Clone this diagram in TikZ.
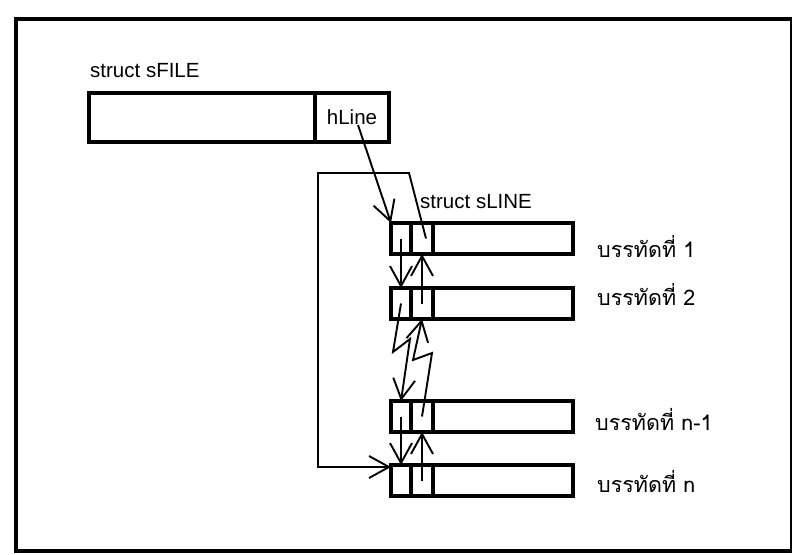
\documentclass[tikz,border=0pt]{standalone}
\usepackage{fontspec}
\setmainfont{Liberation Sans}
\newfontfamily\thaifont[Script=Thai]{Loma}
\usetikzlibrary{arrows.meta}
\begin{document}
\begin{tikzpicture}[x=1pt,y=-1pt,
  frame/.style={line width=3.6pt},
  box/.style={draw,line width=3.2pt,inner sep=0pt,outer sep=0pt,anchor=north west,minimum height=31pt},
  ptr/.style={line width=1.9pt,-{Straight Barb[length=20pt,width=22pt,line width=1.9pt]}},
  lab/.style={anchor=base west,inner sep=0pt,font=\fontsize{20.5}{24}\selectfont},
  thl/.style={anchor=base west,inner sep=0pt,font=\thaifont\fontsize{21.5}{26}\selectfont}]
\useasboundingbox (0,0) rectangle (792,554);
\draw[frame] (16,19) rectangle (792,551);

% struct sFILE
\node[lab] (sfilelab) at (90,77) {struct sFILE};
\node[box,minimum width=226pt,minimum height=49pt] (sfile) at (89,93) {};
\node[box,minimum width=74pt,minimum height=49pt,font=\fontsize{20.5}{24}\selectfont] (hl) at (315,93) {hLine};
\coordinate (hstart) at (358,125);

% struct sLINE
\node[lab] (slinelab) at (420,208) {struct sLINE};

% rows of sLINE
\foreach \r/\t in {1/223,2/288,3/401,4/465}{
  \node[box,minimum width=20pt] (l\r a) at (391,\t) {};
  \node[box,minimum width=22pt] (l\r b) at (411,\t) {};
  \node[box,minimum width=140pt] (l\r c) at (433,\t) {};
}

% labels
\node[thl] (t1) at (597,257) {บรรทัดที่ 1};
\node[thl] (t2) at (597,305) {บรรทัดที่ 2};
\node[thl] (t3) at (595,430) {บรรทัดที่ n-1};
\node[thl] (t4) at (597,492) {บรรทัดที่ n};

% hLine pointer
\draw[ptr] (hstart) -- (l1a.north west);

% loop from first line to last line
\coordinate (lp1) at (409,173);
\coordinate (lp2) at (318,173);
\coordinate (lp3) at (318,467);
\coordinate (lp4) at ([yshift=-2pt]l4a.north west);
\draw[ptr] ([xshift=4pt]l1b.center) -- (lp1) -- (lp2) -- (lp3) -- (lp4);

% next / prev between line 1 and 2
\draw[ptr] (l1a.center) -- (l2a.north);
\draw[ptr] (l2b.center) -- (l1b.south);

% zigzag between line 2 and n-1
\coordinate (z1) at (393,352);
\coordinate (z2) at (410,339);
\draw[ptr,line join=miter] (l2a.center) -- (z1) -- (z2) -- (l3a.north);
\coordinate (z3) at (432,353);
\coordinate (z4) at (413,360);
\draw[ptr,line join=miter] (l3b.center) -- (z3) -- (z4) -- (l2b.south);

% next / prev between line n-1 and n
\draw[ptr] (l3a.center) -- (l4a.north);
\draw[ptr] (l4b.center) -- (l3b.south);
\end{tikzpicture}
\end{document}
